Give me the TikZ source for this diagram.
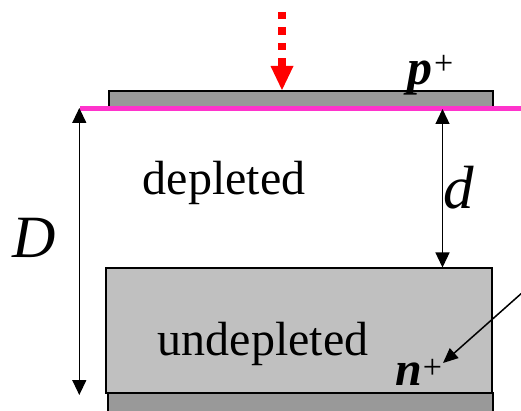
\documentclass[tikz,border=0pt]{standalone}
\usepackage{fontspec}
\setmainfont{Liberation Serif}
\usetikzlibrary{arrows.meta}
\definecolor{barg}{HTML}{999999}
\definecolor{boxg}{HTML}{C0C0C0}
\definecolor{mag}{HTML}{FF33CC}
\tikzset{
  lbl/.style={inner sep=0pt, anchor=base west},
  dim/.style={line width=1.3pt, {Triangle[length=15pt,width=14pt]}-{Triangle[length=15pt,width=14pt]}},
  onearrow/.style={line width=1.5pt, -{Triangle[length=15pt,width=13pt]}},
  bar/.style={draw=black, line width=1.2pt, fill=barg},
}
\begin{document}
\begin{tikzpicture}[x=1pt,y=-1pt]
\useasboundingbox (0,0) rectangle (521,411);
% top p+ bar
\draw[bar] (109,91) rectangle (493,107);
% bottom n+ bar
\draw[bar] (108,393) rectangle (493,412);
% undepleted box
\draw[line width=1.5pt, fill=boxg] (106,268) rectangle (492,393);
% magenta line
\coordinate (mL) at (80,108.5);
\coordinate (mR) at (521,108.5);
\draw[mag, line width=4.5pt] (mL) -- (mR);
% red dotted arrow
\coordinate (rA) at (282,12);
\coordinate (rB) at (282,66.5);
\coordinate (rT) at (282,90);
\draw[red, line width=7.7pt, dash pattern=on 7.5pt off 8pt] (rA) -- (rB);
\fill[red] (rT) -- (270.5,66) -- (293.5,66) -- cycle;
% D dimension
\coordinate (Dt) at (79.3,108);
\coordinate (Db) at (79.3,395);
\draw[dim] (Dt) -- (Db);
% d dimension
\coordinate (dt) at (442.5,109);
\coordinate (db) at (442.5,267.5);
\draw[dim] (dt) -- (db);
% diagonal arrow
\coordinate (aS) at (523,292);
\coordinate (aE) at (443,363);
\draw[onearrow] (aS) -- (aE);
% labels
\node[lbl] (dep) at (142.5,195) {\fontsize{48}{50}\selectfont depleted};
\node[lbl] (undep) at (157.5,355) {\fontsize{48}{50}\selectfont undepleted};
\node[lbl] (Dl) at (12,258) {\fontsize{60}{60}\selectfont\itshape D};
\node[lbl] (dl) at (443,209) {\fontsize{61}{61}\selectfont\itshape d};
\node[lbl] (pl) at (407,85) {\fontsize{50}{50}\selectfont\bfseries\itshape p\hspace{2pt}\raisebox{10pt}{\fontsize{34}{34}\selectfont\mdseries\upshape +}};
\node[lbl] (nl) at (395,385) {\fontsize{48}{48}\selectfont\bfseries\itshape n\hspace{1pt}\raisebox{7pt}{\fontsize{34}{34}\selectfont\mdseries\upshape +}};
\end{tikzpicture}
\end{document}
